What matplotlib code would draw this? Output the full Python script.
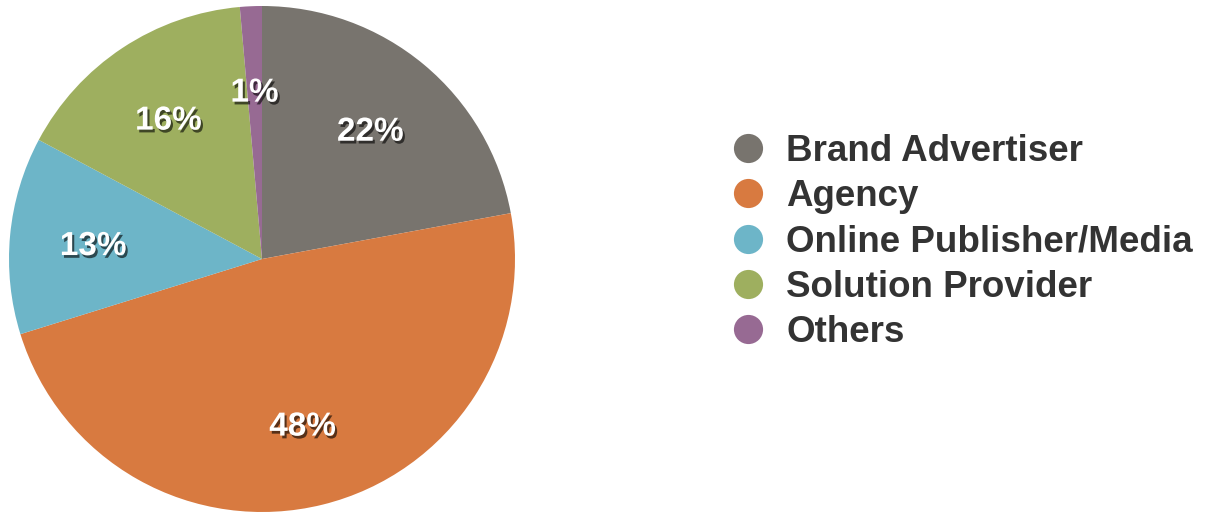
import matplotlib.pyplot as plt
from matplotlib.lines import Line2D
import matplotlib.patheffects as pe

labels = ["Brand Advertiser", "Agency", "Online Publisher/Media", "Solution Provider", "Others"]
shares = [22.1, 48.1, 12.6, 15.8, 1.4]
colors = ["#78746e", "#d87a40", "#6db5c8", "#9eaf5f", "#976a93"]

plt.rcParams['font.family'] = ['Liberation Sans', 'DejaVu Sans']

fig = plt.figure(figsize=(12.1, 5.13), dpi=100)
ax = fig.add_axes([9 / 1210, 1 / 513, 506 / 1210, 506 / 513])

wedges, texts, autotexts = ax.pie(
    shares, colors=colors, startangle=90, counterclock=False,
    autopct=lambda p: "%d%%" % round(p), pctdistance=0.67, radius=1,
    wedgeprops=dict(linewidth=0), frame=False,
)
for t in autotexts:
    t.set_color("white")
    t.set_fontsize(24)
    t.set_fontweight("bold")
    t.set_verticalalignment("center_baseline")
    t.set_path_effects([pe.withSimplePatchShadow(offset=(1.5, -2), shadow_rgbFace="black", alpha=0.6)])
ax.set_xlim(-1, 1)
ax.set_ylim(-1, 1)
ax.set_aspect("equal")

handles = [Line2D([], [], marker="o", linestyle="", markersize=21, markerfacecolor=c,
                  markeredgewidth=0) for c in colors]
leg = fig.legend(handles, labels, loc="center left", bbox_to_anchor=(730 / 1210, 1 - 242 / 513),
                 frameon=False, fontsize=26.5, labelspacing=0.275, handletextpad=0.53,
                 handlelength=1.0, borderpad=0, borderaxespad=0)
for t in leg.get_texts():
    t.set_fontweight("bold")
    t.set_color("#333333")

fig.savefig("out.png", dpi=100)
